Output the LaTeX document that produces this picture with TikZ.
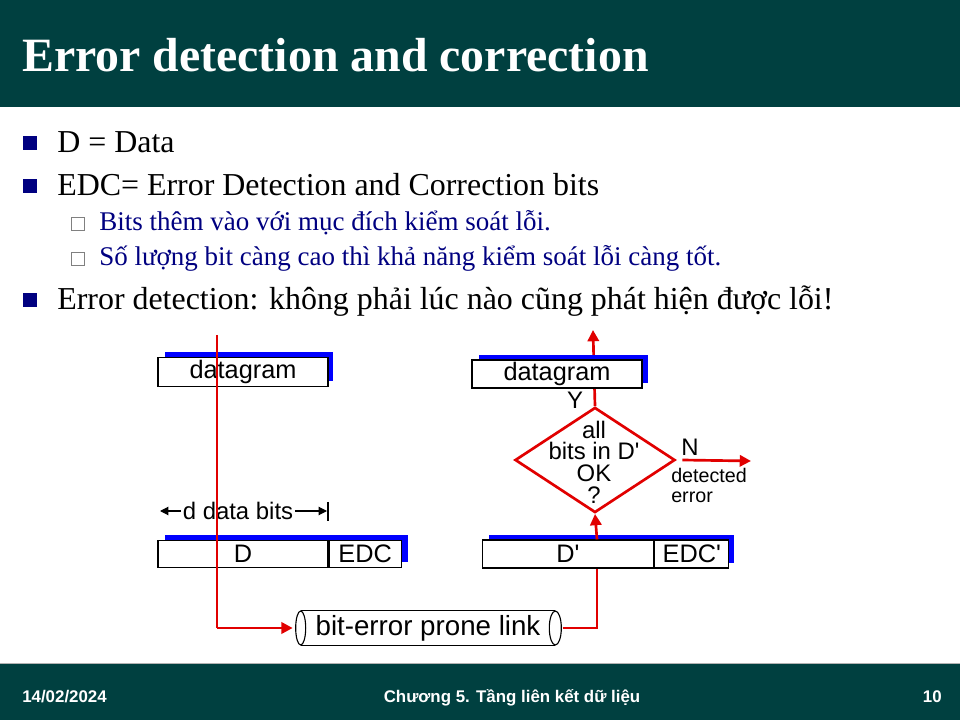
\documentclass[tikz,border=0pt]{standalone}
\usepackage{fontspec}
\setmainfont{Liberation Serif}
\newfontfamily\diagfont{Liberation Sans}
\usepackage{tikz}
\usetikzlibrary{
	shapes,
	calc,
	arrows.meta}

\definecolor{barteal}{RGB}{0,64,64}
\definecolor{bulletnavy}{RGB}{0,0,128}
\definecolor{linkred}{RGB}{225,0,0}

\tikzset{
  packet/.style={draw=black,thick,fill=white,minimum height=0.7cm,inner sep=0pt,font=\diagfont\fontsize{18}{18}\selectfont},
  shade/.style={fill=blue},
  flow/.style={draw=linkred,line width=1.9pt},
  flowarrow/.style={flow,-{Triangle[length=8pt,width=8pt]}},
  bullet/.style={fill=bulletnavy,minimum size=9.5pt,inner sep=0pt},
  subbullet/.style={draw=gray,thin,fill=white,minimum size=9pt,inner sep=0pt},
  bigtext/.style={anchor=base west,inner sep=0pt,font=\fontsize{22.7}{26}\selectfont},
  smalltext/.style={anchor=base west,inner sep=0pt,text=bulletnavy,font=\fontsize{19.2}{22}\selectfont},
  foot/.style={text=white,inner sep=0pt,font=\diagfont\bfseries\fontsize{12}{14}\selectfont},
  label/.style={inner sep=1pt,font=\diagfont\fontsize{17}{17}\selectfont}
}

\begin{document}
\begin{tikzpicture}[x=0.025cm,y=-0.025cm]
  \useasboundingbox (0,0) rectangle (960,720);

  % Title and footer bars
  \fill[barteal] (0,0) rectangle (960,107);
  \fill[barteal] (0,663) rectangle (960,720);
  \draw[gray!60,thin] (0,663.5) -- (960,663.5);
  \node[anchor=base west,inner sep=0pt,text=white,font=\bfseries\fontsize{34}{38}\selectfont] (title) at (22,72) {Error detection and correction};
  \node[foot,anchor=base west] (date) at (22,702) {14/02/2024};
  \node[foot,anchor=base] (chapter) at (512,702) {Chương 5. Tầng liên kết dữ liệu};
  \node[foot,anchor=base east] (page) at (942,702) {10};

  % Bullets
  \node[bullet] (b1) at (30,143) {};
  \node[bigtext] (t1) at (57,153) {D = Data};
  \node[bullet] (b2) at (30,186) {};
  \node[bigtext] (t2) at (57,196) {EDC= Error Detection and Correction bits};
  \node[subbullet] (s1) at (78,224) {};
  \node[smalltext] (u1) at (99,231) {Bits thêm vào với mục đích kiểm soát lỗi.};
  \node[subbullet] (s2) at (78,259) {};
  \node[smalltext] (u2) at (99,266) {Số lượng bit càng cao thì khả năng kiểm soát lỗi càng tốt.};
  \node[bullet] (b3) at (30,300) {};
  \node[bigtext] (t3) at (57,310) {Error detection: không phải lúc nào cũng phát hiện được lỗi!};

  % Sender side
  \fill[shade] (165,352) rectangle (333,381);
  \node[packet,minimum width=4.25cm,minimum height=0.72cm] (dgramA) at (243,372) {datagram};
  \fill[shade] (165,535) rectangle (408,562);
  \node[packet,minimum width=4.25cm,minimum height=0.68cm] (dataA) at (243,554) {D};
  \node[packet,minimum width=1.8cm,minimum height=0.68cm,anchor=west] (edcA) at (dataA.east) {EDC};
  \coordinate (topA) at (217,335);
  \coordinate (cornerA) at (217,628);

  % d data bits
  \coordinate (bitsL) at (160,511);
  \coordinate (bitsR) at (327,511);
  \node[label] (dbits) at (238,511) {d data bits};
  \draw[thick,-{Triangle[length=6pt,width=6pt]}] (dbits.west) -- (bitsL);
  \draw[thick,-{Triangle[length=6pt,width=6pt]}] (dbits.east) -- (bitsR);
  \draw[thick] (328,502) -- (328,521);

  % Link
  \node[minimum width=6.35cm,minimum height=0.85cm,inner sep=0pt,font=\diagfont\fontsize{19.7}{19.7}\selectfont] (link) at (428,628) {bit-error prone link};
  \draw[thick] (link.north west) -- (link.north east);
  \draw[thick] (link.south west) -- (link.south east);
  \draw[thick,fill=white] (link.west) ellipse [x radius=5, y radius=17];
  \draw[thick,fill=white] (link.east) ellipse [x radius=6, y radius=17];
  \coordinate (cornerB) at (597,628);

  % Receiver side
  \fill[shade] (489,535) rectangle (734,563);
  \node[packet,minimum width=4.28cm,minimum height=0.7cm] (dataB) at (568,554) {D'};
  \node[packet,minimum width=1.85cm,minimum height=0.7cm,anchor=west] (edcB) at (dataB.east) {EDC'};
  \node[diamond,draw=linkred,line width=1.9pt,fill=white,minimum width=4cm,minimum height=2.63cm,inner sep=0pt] (check) at (595,460) {};
  \node[align=center,inner sep=0pt,font=\diagfont\fontsize{17}{15.4}\selectfont] (checktext) at (594,462) {all\\bits in D'\\OK\\?};
  \coordinate (topB) at (593,330);
  \draw[flowarrow] (check.north) -- (topB);
  \fill[shade] (479,355) rectangle (648,383);
  \node[packet,minimum width=4.25cm,minimum height=0.7cm] (dgramB) at (557,374) {datagram};
  \node[label] (yes) at (575,400) {Y};
  \node[label] (no) at (690,447) {N};
  \coordinate (errEnd) at (751,461);
  \node[anchor=north west,inner sep=0pt,align=left,font=\diagfont\fontsize{14}{14.5}\selectfont] (err) at (671,468) {detected\\error};

  % Red flow
  \draw[flow] (topA) -- (cornerA);
  \draw[flowarrow,shorten >=0.2cm] (cornerA) -- (link.west);
  \draw[flow,shorten <=0.18cm] (link.east) -- (cornerB) -- (dataB.south -| cornerB);
  \draw[flowarrow] (dataB.north -| cornerB) -- (check.south);
  \draw[flowarrow] ($(check.east)+(6,0)$) -- (errEnd);

\end{tikzpicture}
\end{document}
